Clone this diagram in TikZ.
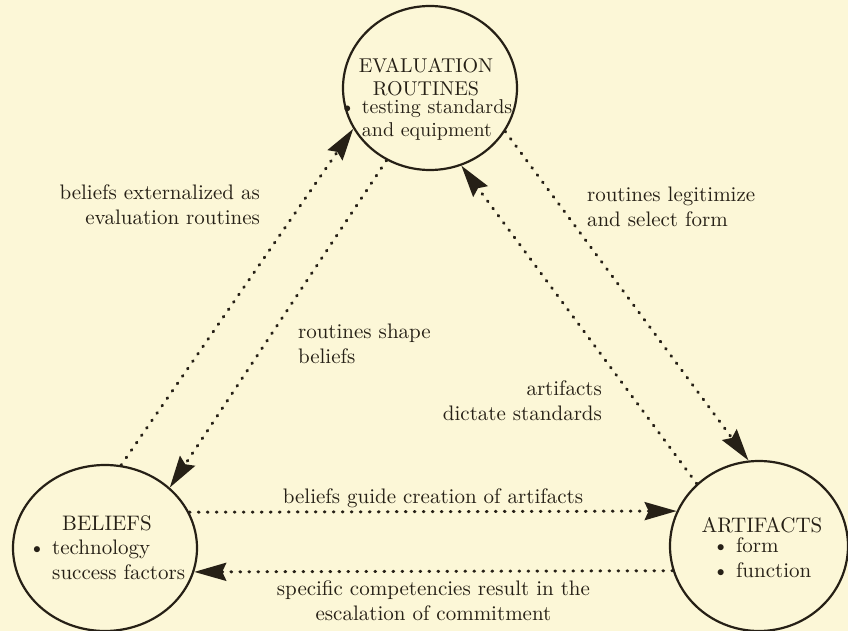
\documentclass[tikz,border=0pt]{standalone}
\usepackage{tikz}
\usetikzlibrary{arrows.meta}
\usetikzlibrary{shapes.geometric}
\definecolor{paper}{RGB}{252,247,215}
\definecolor{ink}{RGB}{38,32,22}
\newcommand{\bulletlist}[1]{\begin{tabular}{@{}l@{\,\,}l@{}}#1\end{tabular}}

\begin{document}
\begin{tikzpicture}[x=0.5pt, y=-0.5pt, ink, font=\fontsize{10.5}{12.5}\selectfont,
	ring/.style={draw=ink, line width=1.1pt, ellipse, inner sep=0pt},
	flow/.style={line width=1.5pt, line cap=round, dash pattern=on 0.4pt off 4.1pt,
		-{Stealth[length=16pt, width=9pt, inset=2pt]}}]
			\path[fill=paper, use as bounding box] (0, 0) rectangle (848, 631);
			\clip (0, 0) rectangle (848, 631);
			% the three circles
			\node[ring, minimum width=87pt, minimum height=82pt] (evaluation) at (430, 88) {};
			\node[ring, minimum width=92pt, minimum height=83pt] (beliefs) at (105, 548) {};
			\node[ring, minimum width=89pt, minimum height=85pt] (artifacts) at (759, 546) {};
			\node[align=center, font=\fontsize{10}{11.5}\selectfont] (evaluationtext) at (426, 101)
				{EVALUATION\\ROUTINES\\
				\bulletlist{\textbullet & testing standards\\ & and equipment}};
			\node[align=center] (beliefstext) at (107, 551)
				{BELIEFS\\[2pt]
				\bulletlist{\textbullet & technology\\ & success factors}};
			\node[align=center] (artifactstext) at (762, 551)
				{ARTIFACTS\\
				\bulletlist{\textbullet & form\\ \textbullet & function}};
			% connectors
			\draw[flow] (beliefs.79) -- (evaluation.208);
			\draw[flow] (evaluation.239) -- (beliefs.43);
			\draw[flow] (evaluation.330) -- (artifacts.97);
			\draw[flow] (artifacts.135) -- (evaluation.292);
			\draw[flow] (beliefs.23) -- node[above, inner sep=1pt] (guidelabel)
				{beliefs guide creation of artifacts} (artifacts.157);
			\draw[flow] (artifacts.196) -- node[below, align=center, inner sep=4pt] (escalationlabel)
				{specific competencies result in the\\escalation of commitment} (beliefs.345);
			\node[anchor=east, align=right] (externallabel) at (267, 205)
				{beliefs externalized as\\evaluation routines};
			\node[anchor=west, align=left] (shapelabel) at (291, 344)
				{routines shape\\beliefs};
			\node[anchor=west, align=left] (legitimizelabel) at (580, 207)
				{routines legitimize\\and select form};
			\node[anchor=east, align=right] (dictatelabel) at (609, 401)
				{artifacts\\dictate standards};
		\end{tikzpicture}
\end{document}
